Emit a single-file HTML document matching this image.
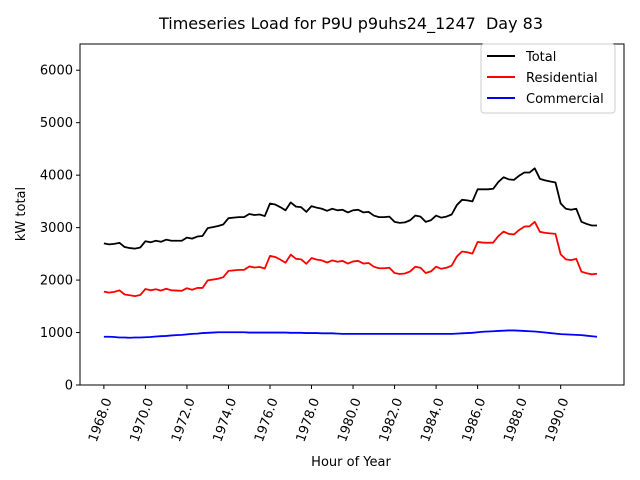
<!DOCTYPE html>
<html><head><meta charset="utf-8"><style>
html,body{margin:0;padding:0;background:#fff;}
svg{display:block;font-family:"DejaVu Sans","Liberation Sans",sans-serif;}
</style></head><body>
<svg id="chart" width="640" height="480" viewBox="0 0 640 480">
<rect x="0" y="0" width="640" height="480" fill="#fff"/>
<text x="351" y="29" text-anchor="middle" font-size="16">Timeseries Load for P9U p9uhs24_1247 &#160;Day 83</text>
<g id="plot"></g>
<rect x="80" y="44" width="544" height="341" fill="none" stroke="#000" stroke-width="1"/>
<text x="351" y="466" text-anchor="middle" font-size="13">Hour of Year</text>
<text transform="translate(25,214) rotate(-90)" text-anchor="middle" font-size="13">kW total</text>
<g>
<rect x="481" y="44" width="134" height="69" rx="3" fill="#fff" stroke="#ccc" stroke-width="1"/>
<line x1="487" y1="56" x2="515" y2="56" stroke="#000" stroke-width="2"/>
<text x="526" y="61" font-size="13">Total</text>
<line x1="487" y1="77" x2="515" y2="77" stroke="#f00" stroke-width="2"/>
<text x="526" y="82" font-size="13">Residential</text>
<line x1="487" y1="98" x2="515" y2="98" stroke="#00f" stroke-width="2"/>
<text x="526" y="103" font-size="13">Commercial</text>
</g>
</svg>
<script>
const startHour = 1968;
const stepHour = 0.25;
const residential = [1780,1760,1775,1805,1725,1710,1695,1715,1830,1805,1825,1800,1835,1805,1800,1795,1845,1815,1850,1850,1995,2010,2025,2055,2175,2185,2195,2195,2260,2240,2250,2220,2460,2440,2390,2330,2485,2405,2395,2310,2420,2390,2375,2335,2375,2350,2365,2315,2355,2365,2315,2325,2255,2225,2225,2235,2135,2115,2125,2165,2255,2235,2135,2165,2255,2215,2235,2275,2450,2545,2530,2505,2725,2715,2710,2715,2840,2925,2880,2870,2955,3020,3025,3110,2920,2900,2890,2880,2490,2395,2380,2405,2160,2130,2110,2120];
const commercial = [920,920,915,905,905,900,905,905,910,915,925,930,935,945,950,955,965,975,980,990,995,1000,1005,1005,1005,1005,1005,1005,1000,1000,1000,1000,1000,1000,1000,1000,995,995,995,990,990,990,985,985,985,980,975,975,975,975,975,975,975,975,975,975,975,975,975,975,975,975,975,975,975,975,975,975,980,985,990,995,1005,1015,1020,1025,1030,1035,1040,1040,1035,1030,1025,1020,1010,1000,990,980,970,965,960,955,950,940,930,920];
const xTicks = [1968,1970,1972,1974,1976,1978,1980,1982,1984,1986,1988,1990];
const yTicks = [0,1000,2000,3000,4000,5000,6000];

const total = residential.map((r,i)=>r+commercial[i]);
const NS = "http://www.w3.org/2000/svg";
const plot = document.getElementById('plot');
const X0=80,X1=624,Y0=44,Y1=385;
const xMin=1966.85, xMax=1993.05, yMin=0, yMax=6500;
function xs(h){return X0+(h-xMin)/(xMax-xMin)*(X1-X0);}
function ys(v){return Y1-(v-yMin)/(yMax-yMin)*(Y1-Y0);}
function mk(tag,attrs){const e=document.createElementNS(NS,tag);for(const k in attrs)e.setAttribute(k,attrs[k]);return e;}

xTicks.forEach(t=>{
  const x=xs(t);
  const tk=mk('line',{x1:x,y1:Y1,x2:x,y2:Y1+4,stroke:'#000'});
  
  
  plot.appendChild(tk);
  const lb=mk('text',{transform:`translate(${x+8},${Y1+15}) rotate(-70)`,'text-anchor':'end','font-size':'13'});
  lb.textContent=t.toFixed(1);
  
  
  plot.appendChild(lb);
});
yTicks.forEach(t=>{
  const y=ys(t);
  const tk=mk('line',{x1:X0-4,y1:y,x2:X0,y2:y,stroke:'#000'});
  
  
  plot.appendChild(tk);
  const lb=mk('text',{x:X0-7,y:y+4.5,'text-anchor':'end','font-size':'13'});
  lb.textContent=t;
  
  
  plot.appendChild(lb);
});
function line(vals,color,name){
  const pts=vals.map((v,i)=>xs(startHour+i*stepHour).toFixed(2)+','+ys(v).toFixed(2)).join(' ');
  const p=mk('polyline',{points:pts,fill:'none',stroke:color,'stroke-width':'1.8','stroke-linejoin':'round'});
  
  
  plot.appendChild(p);
}
line(total,'#000','total-line');
line(residential,'#f00','residential-line');
line(commercial,'#00f','commercial-line');
</script>
</body></html>
